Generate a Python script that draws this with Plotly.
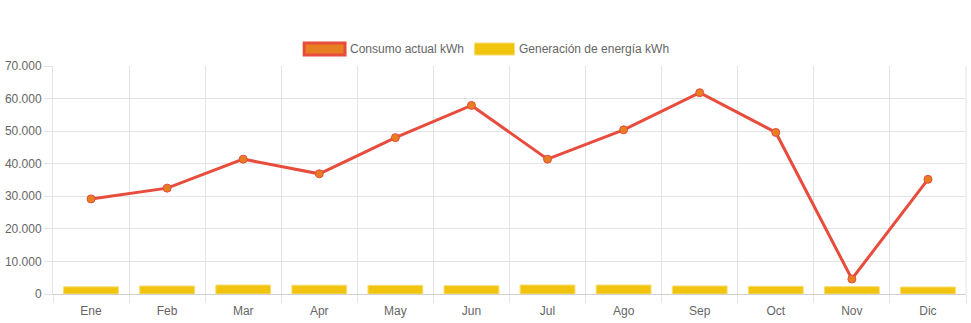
import plotly.graph_objects as go

months = ["Ene", "Feb", "Mar", "Apr", "May", "Jun", "Jul", "Ago", "Sep", "Oct", "Nov", "Dic"]
consumo = [29200, 32500, 41400, 36900, 48000, 57900, 41400, 50400, 61800, 49600, 4600, 35200]
generacion = [2200, 2450, 2750, 2700, 2650, 2550, 2750, 2750, 2450, 2350, 2250, 2150]
series_names = ["Consumo actual kWh", "Generación de energía kWh"]

L, R, T, B = 50, 5, 66, 29
W, H = 971, 323
pw, ph = W - L - R, H - T - B

def px(x):
    return (x - L) / pw

def py(y):
    return (H - B - y) / ph

fig = go.Figure()
fig.add_trace(go.Bar(
    x=months, y=generacion, name=series_names[1],
    marker=dict(color="#f1c40f", line=dict(color="#f7dc6f", width=1)),
    showlegend=False,
))
fig.add_trace(go.Scatter(
    x=months, y=consumo, name=series_names[0], mode="lines+markers",
    line=dict(color="#e74c3c", width=3),
    marker=dict(size=8, color="#e67e22", line=dict(color="#e74c3c", width=1)),
    showlegend=False,
))

grid = "#e3e3e3"
fig.update_layout(
    width=W, height=H,
    margin=dict(l=L, r=R, t=T, b=B, pad=0),
    paper_bgcolor="white", plot_bgcolor="white",
    font=dict(family="Liberation Sans, Arial, sans-serif", size=12, color="#666"),
    separators=",.",
    bargap=0.28,
    xaxis=dict(
        type="category", range=[-0.5, len(months) - 0.5], tickson="boundaries",
        showgrid=True, gridcolor=grid, gridwidth=1,
        ticks="outside", ticklen=8, tickcolor=grid, showline=True, linecolor="#d0d0d0",
        mirror=False, tickfont=dict(size=12, color="#666"), ticklabelstandoff=6,
    ),
    yaxis=dict(
        range=[0, 70000], dtick=10000, tickformat=",d", showgrid=True, gridcolor=grid,
        gridwidth=1, ticks="outside", ticklen=8, tickcolor=grid, showline=True,
        linecolor=grid, zeroline=True, zerolinecolor="#d0d0d0", zerolinewidth=1,
        tickfont=dict(size=12, color="#666"),
    ),
    shapes=[
        dict(type="line", xref="paper", yref="paper", x0=1, x1=1, y0=0, y1=1,
             line=dict(color=grid, width=1)),
        dict(type="rect", xref="paper", yref="paper", x0=px(302), x1=px(343), y0=py(55), y1=py(43),
             fillcolor="#e67e22", line=dict(color="#e74c3c", width=3)),
        dict(type="rect", xref="paper", yref="paper", x0=px(473), x1=px(513), y0=py(55), y1=py(43),
             fillcolor="#f1c40f", line=dict(color="#f7dc6f", width=1)),
    ],
    annotations=[
        dict(text=series_names[0], xref="paper", yref="paper", x=px(346), y=py(49),
             xanchor="left", yanchor="middle", showarrow=False, font=dict(size=12, color="#666")),
        dict(text=series_names[1], xref="paper", yref="paper", x=px(516), y=py(49),
             xanchor="left", yanchor="middle", showarrow=False, font=dict(size=12, color="#666")),
    ],
)

fig.write_html("out.html")
